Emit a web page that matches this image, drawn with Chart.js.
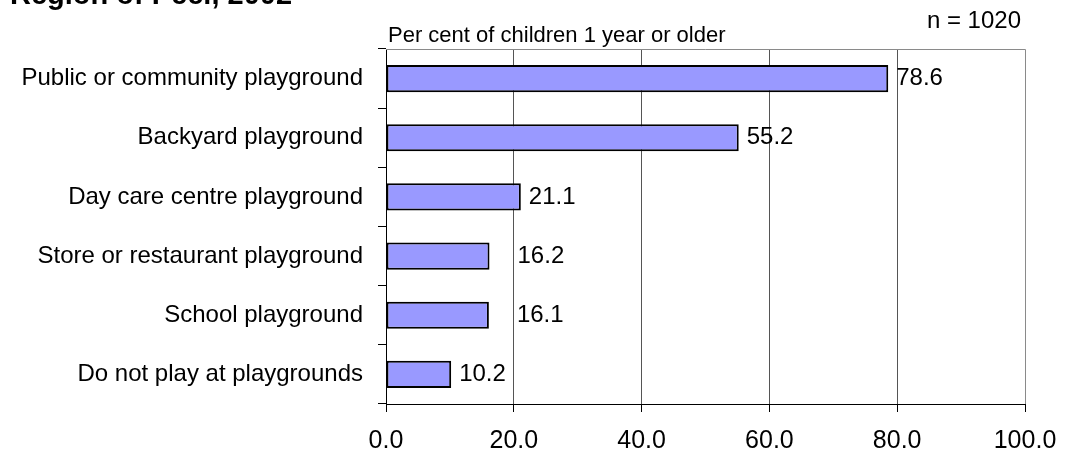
<!DOCTYPE html>
<html>
<head>
<meta charset="utf-8">
<script src="https://cdn.jsdelivr.net/npm/chart.js@4"></script>
<style>
  html, body { margin: 0; padding: 0; background: #fff; }
  #wrap { position: relative; width: 1065px; height: 453px; }
</style>
</head>
<body>
<div id="wrap"><canvas id="chart" width="1065" height="453"></canvas></div>
<script>
const categories = [
  'Public or community playground',
  'Backyard playground',
  'Day care centre playground',
  'Store or restaurant playground',
  'School playground',
  'Do not play at playgrounds'
];
const percents = [78.6, 55.2, 21.1, 16.2, 16.1, 10.2];
const xTicks = [0, 20, 40, 60, 80, 100];

const FONT = "'Liberation Sans', Arial, sans-serif";

// frame, title and notes around the plot
const frame = {
  id: 'frame',
  beforeDatasetsDraw(chart) {
    const { ctx, chartArea: a } = chart;
    ctx.save();
    ctx.strokeStyle = '#8a8a8a';
    ctx.lineWidth = 1;
    ctx.beginPath();
    ctx.moveTo(a.left, a.top + 0.5);
    ctx.lineTo(a.right + 0.5, a.top + 0.5);
    ctx.lineTo(a.right + 0.5, a.bottom);
    ctx.stroke();
    ctx.restore();
  },
  afterDraw(chart) {
    const { ctx } = chart;
    ctx.save();
    ctx.fillStyle = '#000';
    ctx.textBaseline = 'alphabetic';
    ctx.textAlign = 'left';
    ctx.font = 'bold 29px ' + FONT;
    ctx.fillText('Region of Peel, 2002', 10, 4);
    ctx.font = '22px ' + FONT;
    ctx.fillText('Per cent of children 1 year or older', 388, 42);
    ctx.font = '24px ' + FONT;
    ctx.textAlign = 'right';
    ctx.fillText('n = 1020', 1021, 28);
    ctx.restore();
  }
};

// value labels to the right of each bar
const valueLabels = {
  id: 'valueLabels',
  afterDatasetsDraw(chart, args, opts) {
    const { ctx } = chart;
    const meta = chart.getDatasetMeta(0);
    ctx.save();
    ctx.font = '24px ' + FONT;
    ctx.fillStyle = '#000';
    ctx.textAlign = 'left';
    ctx.textBaseline = 'middle';
    meta.data.forEach((bar, i) => {
      const v = chart.data.datasets[0].data[i];
      const shift = opts.shift[i] || 0;
      ctx.fillText(v.toFixed(1), bar.x + opts.gap + shift, bar.y);
    });
    ctx.restore();
  }
};

new Chart(document.getElementById('chart'), {
  type: 'bar',
  data: {
    labels: categories,
    datasets: [{
      data: percents,
      backgroundColor: '#9999ff',
      borderColor: '#000',
      borderWidth: 2,
      borderSkipped: false,
      barPercentage: 0.46,
      categoryPercentage: 1
    }]
  },
  options: {
    indexAxis: 'y',
    responsive: false,
    animation: false,
    layout: { padding: { top: 49, right: 40, left: 0, bottom: 0 } },
    plugins: {
      legend: { display: false },
      tooltip: { enabled: false },
      valueLabels: { gap: 8, shift: [0, 0, 0, 20, 20, 0] }
    },
    scales: {
      x: {
        min: 0,
        max: 100,
        afterBuildTicks(scale) {
          scale.ticks = xTicks.map(v => ({ value: v }));
        },
        afterFit(scale) {
          scale.height = 49;
          scale.paddingLeft = 0;
          scale.paddingRight = 0;
        },
        ticks: {
          callback: v => Number(v).toFixed(1),
          color: '#000',
          font: { family: FONT, size: 25 },
          padding: 14,
          maxRotation: 0
        },
        grid: {
          color: ctx => (ctx.tick && ctx.tick.value > 0 && ctx.tick.value < 100) ? '#555' : 'rgba(0,0,0,0)',
          tickColor: '#000',
          tickLength: 8,
          lineWidth: 1
        },
        border: { color: '#000', width: 1 }
      },
      y: {
        afterFit(scale) { scale.width = 386; },
        ticks: {
          color: '#000',
          font: { family: FONT, size: 24 },
          padding: 15
        },
        grid: {
          offset: true,
          drawOnChartArea: false,
          tickColor: '#000',
          tickLength: 8
        },
        border: { color: '#000', width: 1 }
      }
    }
  },
  plugins: [frame, valueLabels]
});
</script>
</body>
</html>
